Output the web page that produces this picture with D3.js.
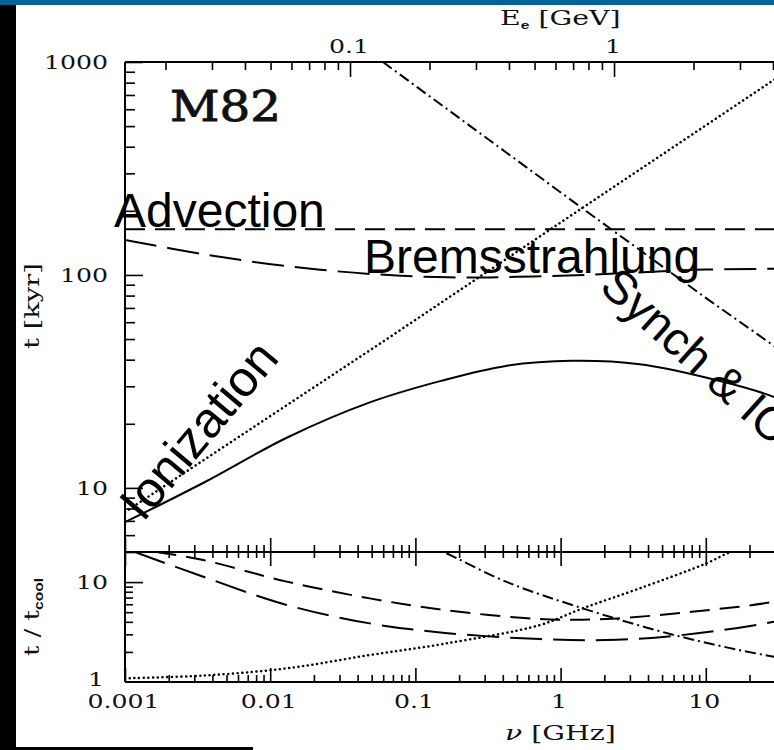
<!DOCTYPE html>
<html>
<head>
<meta charset="utf-8">
<script src="https://cdn.jsdelivr.net/npm/d3@7"></script>
<style>
  html, body { margin: 0; padding: 0; background: #fff; overflow: hidden; }
  svg { display: block; }
</style>
</head>
<body>
<script>
// ---- Cooling / loss times in M82 (kyr) against emission frequency (GHz) ----
const nuTotal   = [0.001, 0.0035, 0.013, 0.0485, 0.15, 0.42, 1.2, 3.5, 10, 30, 100];
const tTotal    = [6.9, 10.6, 17.2, 25.2, 31.8, 37.4, 39.5, 38.1, 33, 26.6, 17.5];

const nuIon     = [0.001, 0.0636, 1.42, 29.4, 100];
const tIon      = [7.7, 50, 207, 824, 1440];

const nuSynch   = [0.0597, 0.42, 1.42, 10, 29.4, 100];
const tSynch    = [1000, 377, 205, 78, 46.5, 24.4];

const nuAdv     = [0.001, 100];
const tAdv      = [164, 164];

const nuBrems   = [0.001, 0.0035, 0.013, 0.05, 0.17, 0.5, 1.5, 5, 10, 30, 100];
const tBrems    = [146, 125, 110, 101, 97.5, 98, 100, 104, 106, 107, 108];

// ---- ratios t / t_cool (lower panel) ----
const nuRatioBrems = [0.00117, 0.00346, 0.013, 0.0485, 0.16, 0.72, 2.05, 6.3, 29.4, 100];
const rBrems       = [20, 11.3, 5.9, 3.86, 3.1, 2.69, 2.63, 2.91, 4.01, 6.2];

const nuRatioAdv   = [0.00165, 0.00346, 0.013, 0.0485, 0.16, 0.72, 2.05, 8, 29.4, 100];
const rAdv         = [20, 16.6, 10.1, 6.87, 5.25, 4.27, 4.27, 5.05, 6.35, 9.4];

const nuRatioIon   = [0.001, 0.00346, 0.013, 0.0485, 0.16, 0.72, 1.42, 3.5, 10.1, 14.7, 20];
const rIon         = [1.09, 1.16, 1.37, 1.86, 2.42, 3.72, 5.46, 8.65, 15.4, 19.9, 22.5];

const nuRatioSynch = [0.12, 0.156, 0.42, 1.42, 6.3, 29.4, 100];
const rSynch       = [23, 20, 10.1, 5.46, 2.91, 1.79, 1.39];

// ---- tick labels ----
const nuTickVals   = [0.001, 0.01, 0.1, 1, 10];
const nuTickLabels = ["0.001", "0.01", "0.1", "1", "10"];
const eTickVals    = [0.1, 1];
const eTickLabels  = ["0.1", "1"];
const tTickVals    = [1000, 100, 10];
const tTickLabels  = ["1000", "100", "10"];
const rTickVals    = [10, 1];
const rTickLabels  = ["10", "1"];

// ---- layout ----
const W = 774, H = 750;
const L = 125, R = 851, TOP = 62, MID = 552, BOT = 682;

const svg = d3.select("body").append("svg").attr("width", W).attr("height", H);

svg.append("rect").attr("x", 0).attr("y", 0).attr("width", W).attr("height", H).attr("fill", "#fff");
svg.append("rect").attr("x", 0).attr("y", 0).attr("width", 16).attr("height", H).attr("fill", "#000");
svg.append("rect").attr("x", 0).attr("y", 0).attr("width", W).attr("height", 5).attr("fill", "#00649a");
svg.append("rect").attr("x", 0).attr("y", 747).attr("width", 253).attr("height", 3).attr("fill", "#000");

const x  = d3.scaleLog().domain([0.001, 100]).range([L, R]);
const xE = d3.scaleLog().domain([0.01405, 7.90]).range([L, R]);
const yT = d3.scaleLog().domain([5, 1000]).range([MID, TOP]);
const yR = d3.scaleLog().domain([1, 20]).range([BOT, MID]);

const defs = svg.append("defs");
defs.append("clipPath").attr("id", "clipTop")
  .append("rect").attr("x", L).attr("y", TOP).attr("width", R - L).attr("height", MID - TOP);
defs.append("clipPath").attr("id", "clipBot")
  .append("rect").attr("x", L).attr("y", MID).attr("width", R - L).attr("height", BOT - MID);

const zip = (a, b) => a.map((v, i) => [v, b[i]]);

const styles = {
  solid:   { dash: null,            width: 2.0, cap: "butt" },
  dotted:  { dash: "0.1 4.6",       width: 2.5, cap: "round" },
  short:   { dash: "20 10",         width: 2.0, cap: "butt" },
  long:    { dash: "32 11",         width: 2.0, cap: "butt" },
  dashdot: { dash: "11 4 2 4",      width: 2.0, cap: "butt" }
};

function drawCurve(g, data, yScale, style, curve) {
  const line = d3.line()
    .x(d => x(d[0]))
    .y(d => yScale(d[1]))
    .curve(curve || d3.curveCatmullRom.alpha(0.5));
  const s = styles[style];
  g.append("path")
    .attr("d", line(data))
    .attr("fill", "none")
    .attr("stroke", "#000")
    .attr("stroke-width", s.width)
    .attr("stroke-linecap", s.cap)
    .attr("stroke-dasharray", s.dash);
}

// upper panel curves
const gTop = svg.append("g").attr("clip-path", "url(#clipTop)");
drawCurve(gTop, zip(nuAdv, tAdv), yT, "short", d3.curveLinear);
drawCurve(gTop, zip(nuBrems, tBrems), yT, "long");
drawCurve(gTop, zip(nuIon, tIon), yT, "dotted", d3.curveLinear);
drawCurve(gTop, zip(nuSynch, tSynch), yT, "dashdot", d3.curveLinear);
drawCurve(gTop, zip(nuTotal, tTotal), yT, "solid");

// lower panel curves
const gBot = svg.append("g").attr("clip-path", "url(#clipBot)");
drawCurve(gBot, zip(nuRatioAdv, rAdv), yR, "short");
drawCurve(gBot, zip(nuRatioBrems, rBrems), yR, "long");
drawCurve(gBot, zip(nuRatioIon, rIon), yR, "dotted");
drawCurve(gBot, zip(nuRatioSynch, rSynch), yR, "dashdot");

// ---- axes (ticks only, frame drawn separately) ----
function tickAxis(axisFn, scale, values, size, tx, ty) {
  const g = svg.append("g")
    .attr("transform", `translate(${tx},${ty})`)
    .call(axisFn(scale).tickValues(values).tickSize(size).tickFormat(""));
  g.select(".domain").remove();
  g.selectAll(".tick line").attr("stroke", "#000").attr("stroke-width", 1.6);
  return g;
}
const isMajor = v => Math.abs(Math.log10(v) - Math.round(Math.log10(v))) < 1e-9;

const nuAll = x.ticks();
const nuMaj = nuAll.filter(isMajor), nuMin = nuAll.filter(v => !isMajor(v));
// bottom axis, ticks pointing up
tickAxis(d3.axisTop, x, nuMaj, 14, 0, BOT);
tickAxis(d3.axisTop, x, nuMin, 7, 0, BOT);
// divider between panels, ticks both ways
tickAxis(d3.axisTop, x, nuMaj, 14, 0, MID);
tickAxis(d3.axisTop, x, nuMin, 7, 0, MID);
tickAxis(d3.axisBottom, x, nuMaj, 14, 0, MID);
tickAxis(d3.axisBottom, x, nuMin, 6, 0, MID);

// top energy axis, ticks pointing down
const eAll = xE.ticks();
tickAxis(d3.axisBottom, xE, eAll.filter(isMajor), 15, 0, TOP);
tickAxis(d3.axisBottom, xE, eAll.filter(v => !isMajor(v)), 8, 0, TOP);

// left axes, ticks pointing right
const tAll = yT.ticks();
tickAxis(d3.axisRight, yT, tAll.filter(isMajor), 18, L, 0);
tickAxis(d3.axisRight, yT, tAll.filter(v => !isMajor(v)), 10, L, 0);
const rAll = yR.ticks();
tickAxis(d3.axisRight, yR, rAll.filter(v => isMajor(v) && v > 1), 18, L, 0);
tickAxis(d3.axisRight, yR, rAll.filter(v => !isMajor(v) && v < 20), 8, L, 0);

// frame
const frame = svg.append("g").attr("stroke", "#000").attr("stroke-width", 2).attr("fill", "none");
frame.append("line").attr("x1", L).attr("x2", L).attr("y1", TOP).attr("y2", BOT);
frame.append("line").attr("x1", L).attr("x2", R).attr("y1", TOP).attr("y2", TOP);
frame.append("line").attr("x1", L).attr("x2", R).attr("y1", MID).attr("y2", MID);
frame.append("line").attr("x1", L).attr("x2", R).attr("y1", BOT).attr("y2", BOT);
frame.append("line").attr("x1", R).attr("x2", R).attr("y1", TOP).attr("y2", BOT);

// ---- text ----
const SERIF = "'DejaVu Serif', serif";
const SANS = "'Liberation Sans', Arial, sans-serif";

function wideText(px, py, str, fs, anchor, rot, sx) {
  return svg.append("text")
    .attr("transform", `translate(${px},${py}) rotate(${rot || 0}) scale(${sx || 1.36},1)`)
    .attr("text-anchor", anchor)
    .attr("font-family", SERIF)
    .attr("font-size", fs)
    .attr("fill", "#111")
    .text(str);
}

const DIG = 18.5;
nuTickVals.forEach((v, i) => wideText(x(v) - 1.5, 708, nuTickLabels[i], DIG, "middle"));
eTickVals.forEach((v, i) => wideText(xE(v) - 1, 53, eTickLabels[i], DIG, "middle"));
tTickVals.forEach((v, i) => wideText(108, yT(v) + 6.8, tTickLabels[i], DIG, "end"));
rTickVals.forEach((v, i) => {
  const off = v === 1 ? -3 : 0;
  wideText(v === 1 ? 104 : 108, yR(v) + 6.8 + off, rTickLabels[i], DIG, "end");
});

// axis titles
const eTitle = wideText(500, 25, "", 20, "start", 0, 1.42);
eTitle.append("tspan").text("E");
eTitle.append("tspan").attr("font-family", SANS).attr("font-weight", "bold")
  .attr("font-size", 11).attr("dy", 4).text("e");
eTitle.append("tspan").attr("dy", -4).text(" [GeV]");

const nuTitle = wideText(505, 740, "", 20, "start", 0, 1.42);
nuTitle.append("tspan").attr("font-style", "italic").text("ν");
nuTitle.append("tspan").text(" [GHz]");

wideText(39, 306, "t [kyr]", 21, "middle", -90, 1.3);

const rTitle = wideText(39, 617, "", 20, "middle", -90, 1.3);
rTitle.append("tspan").text("t / t");
rTitle.append("tspan").attr("font-family", SANS).attr("font-weight", "bold")
  .attr("font-size", 12).attr("dy", 4).text("cool");

// object name
svg.append("text")
  .attr("transform", "translate(170,121) scale(1.15,1)")
  .attr("font-family", SERIF).attr("font-size", 42).attr("fill", "#111")
  .attr("stroke", "#111").attr("stroke-width", 0.9)
  .text("M82");

// process annotations
function note(px, py, str, fs, rot) {
  svg.append("text")
    .attr("transform", `translate(${px},${py}) rotate(${rot})`)
    .attr("font-family", SANS).attr("font-size", fs).attr("fill", "#000")
    .text(str);
}
note(114, 227, "Advection", 48, 0);
note(364, 273, "Bremsstrahlung", 48, 0);
note(143, 523, "Ionization", 50, -50);
note(598, 289, "Synch & IC", 47, 42);
</script>
</body>
</html>
